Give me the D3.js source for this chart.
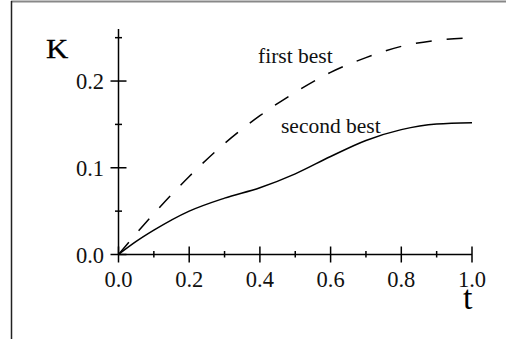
<!DOCTYPE html>
<html><head><meta charset="utf-8">
<script src="https://cdn.jsdelivr.net/npm/d3@7"></script>
<style>html,body{margin:0;padding:0;background:#fff;}svg{display:block;}</style>
</head><body>
<svg id="c" width="506" height="339"></svg>
<script>
const tValues = [0, 0.05, 0.1, 0.2, 0.3, 0.4, 0.5, 0.6, 0.7, 0.8, 0.9, 1.0];
const firstBest = [0, 0.024, 0.047, 0.090, 0.128, 0.160, 0.187, 0.210, 0.227, 0.240, 0.247, 0.250];
const secondBest = [0, 0.015, 0.028, 0.050, 0.065, 0.077, 0.093, 0.113, 0.1315, 0.144, 0.1505, 0.152];
const xMajorTicks = [0, 0.2, 0.4, 0.6, 0.8, 1.0];
const xMinorTicks = [0.1, 0.3, 0.5, 0.7, 0.9];
const yMajorTicks = [0, 0.1, 0.2];
const yMinorTicks = [0.05, 0.15, 0.25];
const seriesLabels = ["first best", "second best"];

const svg = d3.select("#c");
const font = "'Liberation Serif','Times New Roman',serif";

// frame
svg.append("line").attr("x1", 11).attr("x2", 506).attr("y1", 1.5).attr("y2", 1.5).attr("stroke", "#888").attr("stroke-width", 2);
svg.append("line").attr("x1", 11.5).attr("x2", 11.5).attr("y1", 1).attr("y2", 339).attr("stroke", "#222").attr("stroke-width", 1.5);

const x = d3.scaleLinear().domain([0, 1]).range([118.5, 472]);
const y = d3.scaleLinear().domain([0, 0.26]).range([254.5, 29]);

const g = svg.append("g");
g.append("line").attr("x1", x(0)).attr("x2", x(1)).attr("y1", y(0)).attr("y2", y(0)).attr("stroke", "#000").attr("stroke-width", 1.5);
g.append("line").attr("x1", x(0)).attr("x2", x(0)).attr("y1", y(0)).attr("y2", y(0.26)).attr("stroke", "#000").attr("stroke-width", 1.5);

g.selectAll(".xM").data(xMajorTicks).join("line")
  .attr("x1", d => x(d)).attr("x2", d => x(d)).attr("y1", y(0) - 8).attr("y2", y(0) + 8)
  .attr("stroke", "#000").attr("stroke-width", 1.5);
g.selectAll(".xm").data(xMinorTicks).join("line")
  .attr("x1", d => x(d)).attr("x2", d => x(d)).attr("y1", y(0) - 3.5).attr("y2", y(0) + 3)
  .attr("stroke", "#000").attr("stroke-width", 1.5);
g.selectAll(".yM").data(yMajorTicks).join("line")
  .attr("y1", d => y(d)).attr("y2", d => y(d)).attr("x1", x(0) - 8).attr("x2", x(0) + 8)
  .attr("stroke", "#000").attr("stroke-width", 1.5);
g.selectAll(".ym").data(yMinorTicks).join("line")
  .attr("y1", d => y(d)).attr("y2", d => y(d)).attr("x1", x(0) - 3.5).attr("x2", x(0) + 3.5)
  .attr("stroke", "#000").attr("stroke-width", 1.5);

g.selectAll(".xl").data(xMajorTicks).join("text")
  .attr("x", d => x(d)).attr("y", 287).attr("text-anchor", "middle")
  .attr("font-family", font).attr("font-size", 22.5).attr("fill", "#111").text(d => d.toFixed(1));
g.selectAll(".yl").data(yMajorTicks).join("text")
  .attr("x", 104).attr("y", d => y(d) + 8).attr("text-anchor", "end")
  .attr("font-family", font).attr("font-size", 22.5).attr("fill", "#111").text(d => d.toFixed(1));

// axis titles
svg.append("text").attr("transform", "translate(46,58) scale(1.1,1)")
  .attr("font-family", font).attr("font-size", 28).attr("stroke", "#000").attr("stroke-width", 0.3).text("K");
svg.append("text").attr("x", 463).attr("y", 309).attr("font-family", font).attr("font-size", 34).text("t");

const line = d3.line().x((d, i) => x(tValues[i])).y(d => y(d)).curve(d3.curveMonotoneX);
svg.append("path").attr("d", line(firstBest)).attr("fill", "none").attr("stroke", "#000")
  .attr("stroke-width", 1.5).attr("stroke-dasharray", "16,15");
svg.append("path").attr("d", line(secondBest)).attr("fill", "none").attr("stroke", "#000")
  .attr("stroke-width", 1.5);

svg.append("text").attr("x", 258).attr("y", 63).attr("font-family", font).attr("font-size", 21.5).attr("fill", "#111").text(seriesLabels[0]);
svg.append("text").attr("x", 281).attr("y", 133).attr("font-family", font).attr("font-size", 21.5).attr("fill", "#111").text(seriesLabels[1]);
</script>
</body></html>
